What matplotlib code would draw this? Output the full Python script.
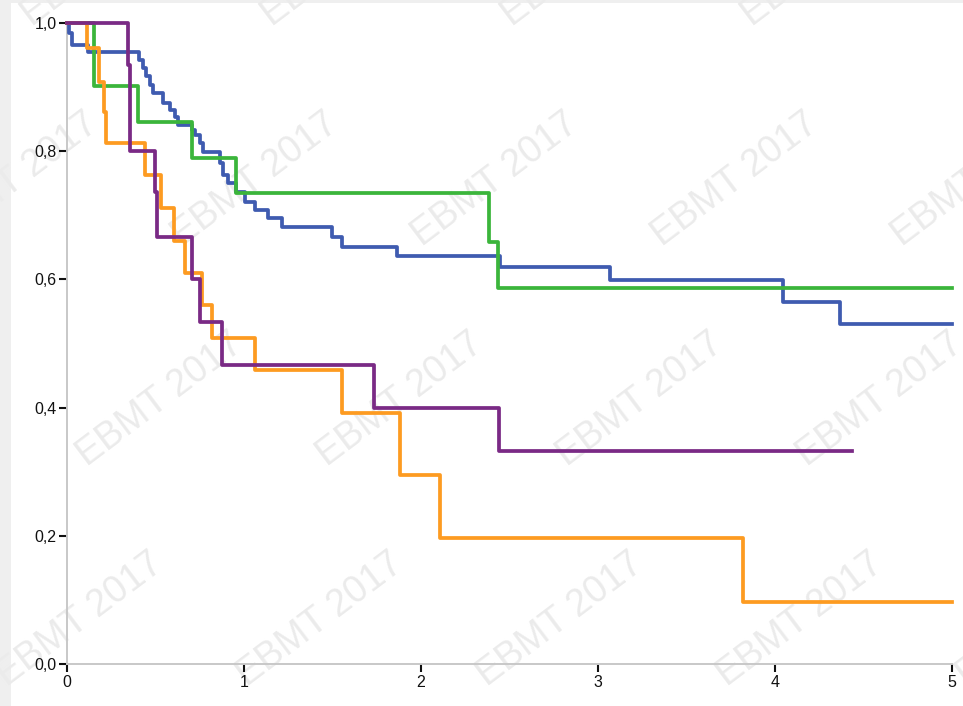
import matplotlib
matplotlib.use("Agg")
import matplotlib.pyplot as plt
from matplotlib.patches import Rectangle
from matplotlib.ticker import FuncFormatter

# survival step data (time in years, survival fraction)
blue_t = [0, 0.011, 0.028, 0.119, 0.407, 0.429, 0.446, 0.469, 0.486, 0.542, 0.582,
          0.610, 0.627, 0.706, 0.723, 0.751, 0.768, 0.864, 0.881, 0.910, 0.955,
          1.006, 1.062, 1.136, 1.215, 1.497, 1.554, 1.864, 2.446, 3.068, 4.045, 4.367]
blue_s = [1.0, 0.984, 0.966, 0.955, 0.942, 0.930, 0.917, 0.903, 0.891, 0.875, 0.864,
          0.853, 0.841, 0.833, 0.825, 0.813, 0.798, 0.782, 0.763, 0.750, 0.736,
          0.721, 0.708, 0.696, 0.682, 0.666, 0.651, 0.637, 0.619, 0.599, 0.565, 0.530]
blue_end = 5.0

green_t = [0, 0.153, 0.40, 0.706, 0.955, 2.384, 2.435]
green_s = [1.0, 0.902, 0.846, 0.789, 0.735, 0.658, 0.587]
green_end = 5.0

orange_t = [0, 0.113, 0.181, 0.209, 0.220, 0.441, 0.531, 0.605, 0.667, 0.763,
            0.819, 1.062, 1.554, 1.881, 2.107, 3.819]
orange_s = [1.0, 0.961, 0.908, 0.861, 0.813, 0.763, 0.711, 0.660, 0.610, 0.560,
            0.509, 0.459, 0.392, 0.295, 0.197, 0.097]
orange_end = 5.0

purple_t = [0, 0.345, 0.356, 0.497, 0.508, 0.706, 0.751, 0.876, 1.734, 2.441]
purple_s = [1.0, 0.934, 0.800, 0.736, 0.666, 0.600, 0.533, 0.466, 0.400, 0.333]
purple_end = 4.435

x_ticks = [0, 1, 2, 3, 4, 5]
y_ticks = [0.0, 0.2, 0.4, 0.6, 0.8, 1.0]

plt.rcParams['font.family'] = ['Liberation Sans', 'DejaVu Sans']

fig = plt.figure(figsize=(9.63, 7.06), dpi=100)
fig.patch.set_facecolor('white')

# light grey frame strips (left and top)
fig.patches.append(Rectangle((0, 0), 11 / 963, 1, transform=fig.transFigure,
                             facecolor='#efefef', edgecolor='none', zorder=0))
fig.patches.append(Rectangle((0, 1 - 3 / 706), 1, 3 / 706, transform=fig.transFigure,
                             facecolor='#efefef', edgecolor='none', zorder=0))

# watermark, behind everything else
wm_rows = [(-40, 345), (180, 255), (400, 160), (620, 80)]
for yy, x0 in wm_rows:
    for k in range(-1, 5):
        xx = x0 + 240 * k
        fig.text(xx / 963, 1 - yy / 706, 'EBMT 2017', fontsize=27, color='#ebebeb',
                 rotation=37, ha='center', va='center', rotation_mode='anchor', zorder=0.5)

ax = fig.add_axes([67 / 963, 1 - 664 / 706, (952 - 67) / 963, (664 - 23) / 706])
ax.set_facecolor('none')
ax.set_zorder(2)


def draw(t, s, end, color):
    xs = list(t) + [end]
    ys = list(s) + [s[-1]]
    ax.step(xs, ys, where='post', color=color, lw=2.7, clip_on=False, zorder=3)


draw(blue_t, blue_s, blue_end, '#3f5bb0')
draw(green_t, green_s, green_end, '#3bb53b')
draw(orange_t, orange_s, orange_end, '#fd9b21')
draw(purple_t, purple_s, purple_end, '#7a2a85')

ax.set_xlim(0, 5)
ax.set_ylim(0, 1.0)
ax.set_xticks(x_ticks)
ax.set_yticks(y_ticks)
ax.yaxis.set_major_formatter(FuncFormatter(lambda v, p: f'{v:.1f}'.replace('.', ',')))

for side in ['top', 'right']:
    ax.spines[side].set_visible(False)
for side in ['left', 'bottom']:
    ax.spines[side].set_color('#c8c8c8')
    ax.spines[side].set_linewidth(1.4)

ax.tick_params(axis='both', colors='#111111', labelsize=11.5, width=1.5, length=6)
ax.tick_params(axis='y', pad=1.5)
ax.tick_params(axis='x', pad=2)

fig.savefig('out.png', dpi=100)
